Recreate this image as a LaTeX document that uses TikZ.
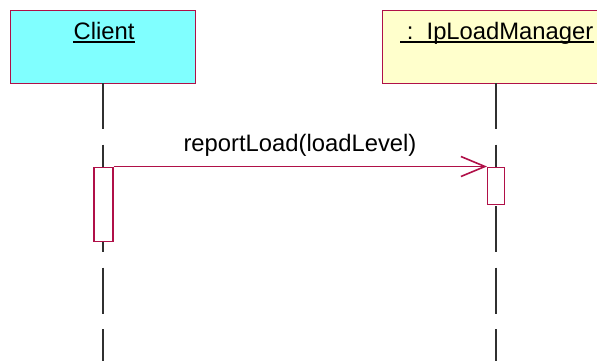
\documentclass[tikz,border=0pt]{standalone}
\usepackage{fontspec}
\setmainfont{Liberation Sans}
\usetikzlibrary{arrows.meta}
\definecolor{umlred}{HTML}{B01048}
\definecolor{clientfill}{HTML}{80FFFF}
\definecolor{mgrfill}{HTML}{FFFFCC}
\definecolor{lifegray}{HTML}{303030}
\tikzset{
  objbox/.style={draw=umlred, line width=1.3pt},
  actbox/.style={draw=umlred, fill=white, line width=1.3pt},
  lifeline/.style={draw=lifegray, line width=1.3pt, dash pattern=on 46pt off 15.5pt},
  lbl/.style={inner sep=0pt, font=\fontsize{23.8}{28}\selectfont},
  uline/.style={line width=1.9pt, black},
  msg/.style={draw=umlred, line width=1.3pt, -{Straight Barb[length=24pt,width=20pt,line width=1.6pt]}}
}
\begin{document}
\begin{tikzpicture}[x=1pt,y=-1pt]
\useasboundingbox (0,0) rectangle (597,360);
\clip (0,0) rectangle (597,360);
% object boxes
\node[objbox, fill=clientfill, minimum width=185pt, minimum height=73pt, anchor=north west, inner sep=0pt] (client) at (10,10) {};
\node[objbox, fill=mgrfill, minimum width=240pt, minimum height=73pt, anchor=north west, inner sep=0pt] (mgr) at (382,10) {};
% labels
\node[lbl, anchor=base] (clientlbl) at (104,39) {Client};
\draw[uline] ([yshift=-2.6pt]clientlbl.base west) -- ([yshift=-2.6pt]clientlbl.base east);
\node[lbl, anchor=base west] (mgrlbl) at (400,39) {\ :\ \ IpLoadManager};
\draw[uline] ([yshift=-2.6pt]mgrlbl.base west) -- ([yshift=-2.6pt]mgrlbl.base east);
% lifelines
\coordinate (cend) at (103,362);
\coordinate (mend) at (496,362);
\draw[lifeline] (103,83) -- (cend);
\draw[lifeline] (496,83) -- (mend);
% activations
\node[actbox, minimum width=19pt, minimum height=74pt, anchor=north west, inner sep=0pt] (cact) at (93.3,166.5) {};
\node[actbox, minimum width=17pt, minimum height=37pt, anchor=north west, inner sep=0pt] (mact) at (487,166.5) {};
% message
\draw[msg] (cact.north east) -- (mact.north west);
\node[lbl, anchor=base] (msglbl) at (300,151) {reportLoad(loadLevel)};
\end{tikzpicture}
\end{document}
